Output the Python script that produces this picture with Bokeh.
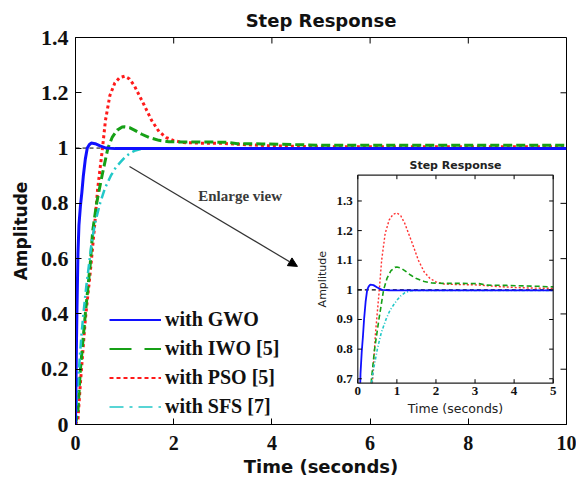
import numpy as np
from bokeh.plotting import figure
from bokeh.models import (Range1d, Legend, LegendItem, Arrow, NormalHead, FixedTicker)
from bokeh.core.properties import value
from bokeh.embed import file_html
from bokeh.resources import INLINE

# ---------------- data ----------------
t_gwo = [0, 0.01, 0.02, 0.03, 0.05, 0.07, 0.10, 0.13, 0.16, 0.20, 0.24, 0.28, 0.32,
         0.40, 0.50, 0.62, 0.80, 1.0, 2, 3, 4, 5, 6, 7, 8, 9, 10]
y_gwo = [0, 0.15, 0.30, 0.42, 0.62, 0.72, 0.79, 0.84, 0.90, 0.96, 1.00, 1.012, 1.018,
         1.016, 1.008, 1.0, 0.998, 0.998, 0.998, 0.998, 0.998, 0.998, 0.998, 0.998,
         0.998, 0.998, 0.998]

t_iwo = [0, 0.05, 0.1, 0.2, 0.3, 0.35, 0.43, 0.54, 0.66, 0.75, 0.85, 0.95, 1.0, 1.1,
         1.2, 1.35, 1.5, 1.7, 1.9, 2.2, 2.6, 3.1, 3.3, 3.8, 4.6, 5, 6, 7, 8, 9, 10]
y_iwo = [0, 0.05, 0.2, 0.4, 0.58, 0.7, 0.8, 0.9, 1.0, 1.04, 1.065, 1.076, 1.077, 1.074,
         1.065, 1.05, 1.038, 1.028, 1.023, 1.022, 1.022, 1.021, 1.016, 1.015, 1.012,
         1.01, 1.01, 1.01, 1.01, 1.01, 1.01]

t_pso = [0, 0.05, 0.1, 0.2, 0.3, 0.38, 0.45, 0.55, 0.61, 0.7, 0.8, 0.9, 1.0, 1.1, 1.2,
         1.3, 1.4, 1.55, 1.7, 1.85, 2.0, 2.2, 2.5, 3.0, 3.5, 4.0, 4.5, 5, 6, 7, 8, 9, 10]
y_pso = [0, 0.02, 0.15, 0.38, 0.55, 0.7, 0.85, 1.0, 1.1, 1.19, 1.235, 1.255, 1.26, 1.25,
         1.225, 1.19, 1.155, 1.1, 1.06, 1.038, 1.027, 1.02, 1.018, 1.017, 1.012, 1.008,
         1.006, 1.005, 1.005, 1.005, 1.005, 1.005, 1.005]

t_sfs = [0, 0.03, 0.07, 0.12, 0.16, 0.22, 0.29, 0.33, 0.4, 0.5, 0.6, 0.72, 0.82, 0.92,
         1.0, 1.1, 1.2, 1.35, 1.5, 2, 3, 4, 5, 6, 7, 8, 9, 10]
y_sfs = [0, 0.1, 0.2, 0.32, 0.4, 0.5, 0.6, 0.66, 0.73, 0.8, 0.855, 0.9, 0.93, 0.95,
         0.965, 0.98, 0.99, 0.997, 0.998, 0.998, 0.998, 0.998, 0.998, 0.998, 0.998,
         0.998, 0.998, 0.998]

series_labels = ["with GWO", "with IWO [5]", "with PSO [5]", "with SFS [7]"]
steady_level = 1.0

main_x_range = (0, 10)
main_y_range = (0, 1.4)
main_xticks = [0, 2, 4, 6, 8, 10]
main_xtick_labels = ["0", "2", "4", "6", "8", "10"]
main_yticks = [0, 0.2, 0.4, 0.6, 0.8, 1, 1.2, 1.4]
main_ytick_labels = ["0", "0.2", "0.4", "0.6", "0.8", "1", "1.2", "1.4"]

inset_x_range = (0, 5)
inset_y_range = (0.685, 1.387)
inset_xticks = [0, 1, 2, 3, 4, 5]
inset_xtick_labels = ["0", "1", "2", "3", "4", "5"]
inset_yticks = [0.7, 0.8, 0.9, 1.0, 1.1, 1.2, 1.3]
inset_ytick_labels = ["0.7", "0.8", "0.9", "1", "1.1", "1.2", "1.3"]

arrow_from = (1.10, 0.933)
arrow_to = (4.52, 0.572)
note_pos = (2.5, 0.825)
note_text = "Enlarge view"

# ---------------- layout geometry (pixels) ----------------
W, H = 576, 482
FL, FR, FT, FB = 75, 566, 37, 424          # main frame
IL, IR, IT, IB = 357.3, 552.7, 174.7, 382.7  # inset frame

SANS = value("DejaVu Sans")
SERIF = value("Liberation Serif")

p = figure(width=W, height=H, x_range=Range1d(*main_x_range), y_range=Range1d(*main_y_range),
           output_backend="svg", toolbar_location=None,
           min_border_left=FL, min_border_right=W - FR, min_border_top=FT,
           min_border_bottom=H - FB)
p.background_fill_color = "white"
p.border_fill_color = "white"
p.outline_line_color = "black"
p.outline_line_width = 1
p.xgrid.visible = False
p.ygrid.visible = False

p.title.text = "Step Response"
p.title.align = "center"
p.title.text_font = "DejaVu Sans"
p.title.text_font_style = "bold"
p.title.text_font_size = "18px"
p.title.text_color = "#111111"
p.title.standoff = 13

def style_axis(ax, ticks, labels, font_size, standoff):
    ax.ticker = FixedTicker(ticks=ticks)
    ax.major_label_overrides = {t: l for t, l in zip(ticks, labels)}
    ax.major_tick_in = 6
    ax.major_tick_out = 0
    ax.minor_tick_line_color = None
    ax.axis_line_color = "black"
    ax.major_tick_line_color = "black"
    ax.major_label_text_font = "Liberation Serif"
    ax.major_label_text_font_style = "bold"
    ax.major_label_text_font_size = font_size
    ax.major_label_text_color = "#111111"
    ax.major_label_standoff = standoff

xa = p.xaxis[0]
style_axis(xa, main_xticks, main_xtick_labels, "20px", 11)
xa.axis_label = "Time (seconds)"
xa.axis_label_text_font = "DejaVu Sans"
xa.axis_label_text_font_style = "bold"
xa.axis_label_text_font_size = "18px"
xa.axis_label_standoff = 3
xa.axis_label_text_color = "#111111"

ya = p.yaxis[0]
style_axis(ya, main_yticks, main_ytick_labels, "22px", 7)
ya.major_label_orientation = "horizontal"
ya.axis_label = "Amplitude"
ya.axis_label_text_font = "DejaVu Sans"
ya.axis_label_text_font_style = "bold"
ya.axis_label_text_font_size = "17px"
ya.axis_label_standoff = 7
ya.axis_label_text_color = "#111111"

# top / right inward ticks of the box
nx, ny = len(main_xticks), len(main_yticks)
p.ray(x=main_xticks, y=[main_y_range[1]] * nx, length=6, length_units="screen",
      angle=-np.pi / 2, line_color="black", line_width=1)
p.ray(x=[main_x_range[1]] * ny, y=main_yticks, length=6, length_units="screen",
      angle=np.pi, line_color="black", line_width=1)

# ---------------- main curves ----------------
p.line(list(main_x_range), [steady_level, steady_level], line_color="black",
       line_width=1, line_dash="4 3")
r_pso = p.line(t_pso, y_pso, line_color="#ff1a1a", line_width=3, line_dash="3 3")
r_iwo = p.line(t_iwo, y_iwo, line_color="#16a016", line_width=3, line_dash="9 4")
r_sfs = p.line(t_sfs, y_sfs, line_color="#22c8c8", line_width=2.5, line_dash="9 4 2 4")
r_gwo = p.line(t_gwo, y_gwo, line_color="#1010ff", line_width=3)

# legend keys (drawn thinner, as in the reference legend); a single point draws no line
k_gwo = p.line(t_gwo[:1], y_gwo[:1], line_color="#1010ff", line_width=2)
k_iwo = p.line(t_iwo[:1], y_iwo[:1], line_color="#16a016", line_width=2, line_dash="22 13")
k_pso = p.line(t_pso[:1], y_pso[:1], line_color="#ff1a1a", line_width=2, line_dash="4 3")
k_sfs = p.line(t_sfs[:1], y_sfs[:1], line_color="#22c8c8", line_width=1.6,
               line_dash="14 6 3 6")

legend = Legend(items=[LegendItem(label=series_labels[0], renderers=[k_gwo]),
                       LegendItem(label=series_labels[1], renderers=[k_iwo]),
                       LegendItem(label=series_labels[2], renderers=[k_pso]),
                       LegendItem(label=series_labels[3], renderers=[k_sfs])],
                location=(34, 3), orientation="vertical",
                label_text_font="Liberation Serif", label_text_font_style="bold",
                label_text_font_size="20px", label_text_color="#111111",
                glyph_width=52, glyph_height=29, label_height=29, spacing=0,
                padding=0, margin=0, border_line_color=None,
                background_fill_alpha=0, label_standoff=4)
p.add_layout(legend)

p.add_layout(Arrow(end=NormalHead(size=9, fill_color="black", line_color="black"),
                   x_start=arrow_from[0], y_start=arrow_from[1],
                   x_end=arrow_to[0], y_end=arrow_to[1],
                   line_color="#333333", line_width=1.2))
p.text([note_pos[0]], [note_pos[1]], text=[note_text], text_font=SERIF,
       text_font_style="bold", text_font_size="15px", text_color="#3a3a3a",
       text_align="left", text_baseline="middle")

# ---------------- inset (extra ranges mapped onto the inset box) ----------------
ix_scale = (IR - IL) / (inset_x_range[1] - inset_x_range[0])
iy_scale = (IB - IT) / (inset_y_range[1] - inset_y_range[0])
p.extra_x_ranges = {"ix": Range1d(inset_x_range[0] - (IL - FL) / ix_scale,
                                  inset_x_range[1] + (FR - IR) / ix_scale)}
p.extra_y_ranges = {"iy": Range1d(inset_y_range[0] - (FB - IB) / iy_scale,
                                  inset_y_range[1] + (IT - FT) / iy_scale)}
INS = dict(x_range_name="ix", y_range_name="iy")

def clip_inset(t, y, tmax, ymin):
    out_t, out_y = [], []
    for i in range(len(t)):
        if t[i] > tmax:
            break
        if y[i] >= ymin:
            if i > 0 and y[i - 1] < ymin:
                f = (ymin - y[i - 1]) / (y[i] - y[i - 1])
                out_t.append(t[i - 1] + f * (t[i] - t[i - 1]))
                out_y.append(ymin)
            out_t.append(t[i])
            out_y.append(y[i])
    return out_t, out_y

x0, x1 = inset_x_range
y0, y1 = inset_y_range
p.quad(left=[x0], right=[x1], bottom=[y0], top=[y1], fill_color="white",
       line_color=None, **INS)
p.line([x0, x1], [steady_level, steady_level], line_color="black", line_width=1.2,
       line_dash="4 3", **INS)
for (tt, yy, col, lw, dash) in [
        (t_pso, y_pso, "#ff3030", 1.4, "2 2"),
        (t_iwo, y_iwo, "#16a016", 1.6, "5 3"),
        (t_sfs, y_sfs, "#22c8c8", 1.6, "3 2 1 2"),
        (t_gwo, y_gwo, "#1010ff", 1.8, "solid")]:
    ct, cy = clip_inset(tt, yy, x1, y0)
    p.line(ct, cy, line_color=col, line_width=lw, line_dash=dash, **INS)

p.quad(left=[x0], right=[x1], bottom=[y0], top=[y1], fill_color=None,
       line_color="#222222", line_width=1.2, **INS)

# inset ticks (inward)
p.ray(x=inset_xticks, y=[y0] * len(inset_xticks), length=4, length_units="screen",
      angle=np.pi / 2, line_color="black", line_width=1, **INS)
p.ray(x=inset_xticks, y=[y1] * len(inset_xticks), length=4, length_units="screen",
      angle=-np.pi / 2, line_color="black", line_width=1, **INS)
p.ray(x=[x0] * len(inset_yticks), y=inset_yticks, length=4, length_units="screen",
      angle=0, line_color="black", line_width=1, **INS)
p.ray(x=[x1] * len(inset_yticks), y=inset_yticks, length=4, length_units="screen",
      angle=np.pi, line_color="black", line_width=1, **INS)

p.text(x=inset_xticks, y=[y0] * len(inset_xticks), text=inset_xtick_labels,
       y_offset=4, text_align="center", text_baseline="top", text_font=SERIF,
       text_font_style="bold", text_font_size="13px", text_color="#111111", **INS)
p.text(x=[x0] * len(inset_yticks), y=inset_yticks, text=inset_ytick_labels,
       x_offset=-5, text_align="right", text_baseline="middle", text_font=SERIF,
       text_font_style="bold", text_font_size="13px", text_color="#111111", **INS)
p.text(x=[(x0 + x1) / 2], y=[y1], text=["Step Response"], y_offset=-10,
       text_align="center", text_baseline="middle", text_font=SANS,
       text_font_style="bold", text_font_size="11px", text_color="#222222", **INS)
p.text(x=[(x0 + x1) / 2], y=[y0], text=["Time (seconds)"], y_offset=25,
       text_align="center", text_baseline="middle", text_font=SANS,
       text_font_size="12.5px", text_color="#222222", **INS)
p.text(x=[x0], y=[(y0 + y1) / 2], text=["Amplitude"], x_offset=-35, angle=np.pi / 2,
       text_align="center", text_baseline="middle", text_font=SANS,
       text_font_size="11px", text_color="#222222", **INS)

open("out.html", "w").write(file_html(p, INLINE))
